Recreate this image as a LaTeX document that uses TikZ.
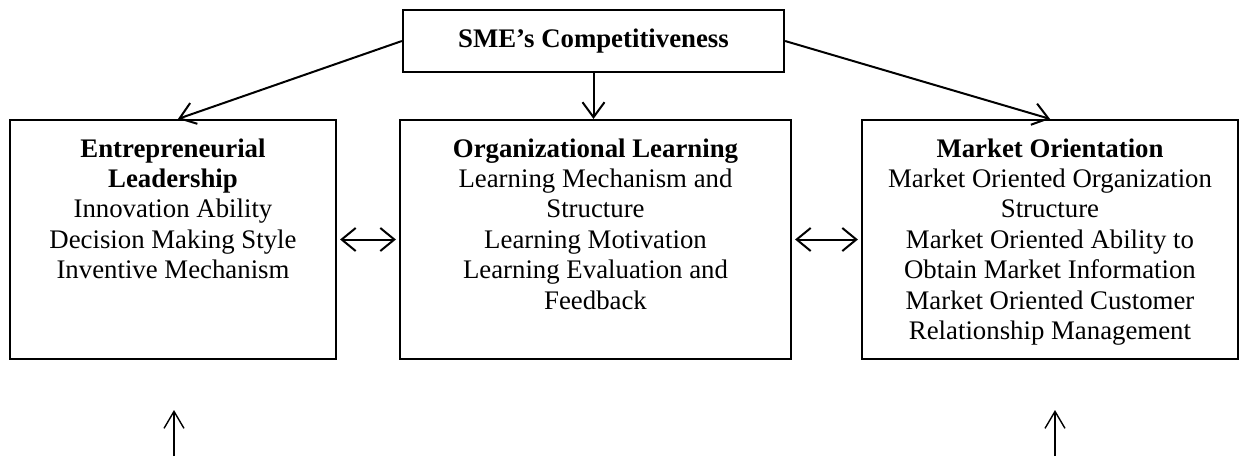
\documentclass[tikz,border=0pt]{standalone}
\usepackage{fontspec}
\setmainfont{Liberation Serif}
\usetikzlibrary{arrows.meta}

\begin{document}
\begin{tikzpicture}[x=0.5pt,y=-0.5pt,
  box/.style={draw,line width=1.1pt,align=center,inner xsep=0pt,inner ysep=0pt,
    minimum height=119.5pt,font=\fontsize{13.4}{15.2}\selectfont},
  topbox/.style={draw,line width=1.1pt,minimum width=190.5pt,minimum height=31pt,
    font=\fontsize{13.4}{15.2}\selectfont\bfseries},
  arr/.style={line width=1pt,-{Straight Barb[length=7.5pt,width=11pt]}},
  biarr/.style={line width=1pt,shorten <=1.5pt,shorten >=1.5pt,
    {Straight Barb[length=7pt,width=11.5pt]}-{Straight Barb[length=7pt,width=11.5pt]}},
  inarr/.style={line width=0.7pt,-{Straight Barb[length=8.5pt,width=10pt]}}]
  \def\by{239.5};
  \useasboundingbox (0,0) rectangle (1243,456);
  \node[topbox] (sme) at (593.5,41) {SME’s Competitiveness};
  \node[box,minimum width=163pt,text height=79.3pt,text depth=40.2pt] (el) at (173,\by) {\textbf{Entrepreneurial}\\\textbf{Leadership}\\Innovation Ability\\Decision Making Style\\Inventive Mechanism};
  \node[box,minimum width=195.5pt,text height=94.5pt,text depth=25pt] (ol) at (595.5,\by) {\textbf{Organizational Learning}\\Learning Mechanism and\\Structure\\Learning Motivation\\Learning Evaluation and\\Feedback};
  \node[box,minimum width=188pt,text height=109.7pt,text depth=9.8pt] (mo) at (1050,\by) {\textbf{Market Orientation}\\Market Oriented Organization\\Structure\\Market Oriented Ability to\\Obtain Market Information\\Market Oriented Customer\\Relationship Management};
  \draw[arr] (sme.west) -- ([xshift=2.5pt]el.north);
  \draw[arr] (sme.south) -- (sme.south |- ol.north);
  \draw[arr] (sme.east) -- (mo.north);
  \draw[biarr] (el.east) -- (ol.west);
  \draw[biarr] (ol.east) -- (mo.west);
  %inputs from below
  \coordinate (elin) at (174,456);
  \coordinate (moin) at (1055,456);
  \draw[inarr] (elin) -- ++(0,-46);
  \draw[inarr] (moin) -- ++(0,-46);
\end{tikzpicture}
\end{document}
